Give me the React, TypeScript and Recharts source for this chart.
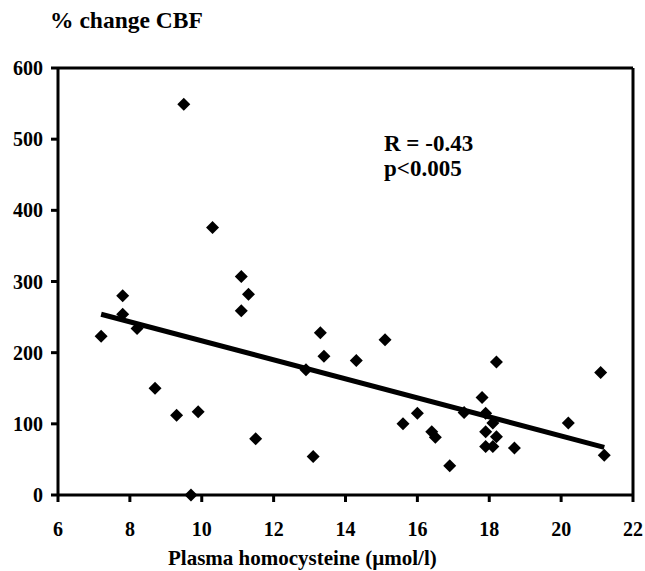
import {
	ScatterChart,
	Scatter,
	XAxis,
	YAxis,
	ReferenceLine
} from 'recharts'

// homocysteine (µmol/l) vs % change CBF
const homocysteine = [
	7.2, 7.8, 7.8, 8.2, 8.7, 9.3, 9.5, 9.7, 9.9, 10.3, 11.1, 11.3, 11.1, 11.5,
	12.9, 13.1, 13.3, 13.4, 14.3, 15.1, 15.6, 16.0, 16.4, 16.5, 16.9, 17.3,
	17.8, 17.9, 18.1, 17.9, 18.2, 17.9, 18.1, 18.2, 18.7, 20.2, 21.1, 21.2
]
const cbfChange = [
	223, 280, 254, 234, 150, 112, 549, 0, 117, 376, 307, 282, 259, 79, 176, 54,
	228, 195, 189, 218, 100, 115, 89, 81, 41, 116, 137, 115, 101, 89, 82, 68,
	68, 187, 66, 101, 172, 56
]

// regression line end points
const fitX = [7.2, 21.2]
const fitY = [254, 67]

const xTicks = [6, 8, 10, 12, 14, 16, 18, 20, 22]
const yTicks = [0, 100, 200, 300, 400, 500, 600]

const points = homocysteine.map((x, i) => ({ x, y: cbfChange[i] }))
const fit = fitX.map((x, i) => ({ x, y: fitY[i] }))

const font = "'Liberation Serif', 'Times New Roman', serif"
const tickStyle = { fill: '#000', fontSize: 20, fontWeight: 700, fontFamily: font }

function Diamond(props: any) {
	const { cx, cy } = props
	const r = 6.5
	return (
		<polygon
			points={`${cx},${cy - r} ${cx + r},${cy} ${cx},${cy + r} ${cx - r},${cy}`}
			fill='#000'
		/>
	)
}

export default function App() {
	// pinned to the page corner so nothing overflows into scrollbars
	return (
		<div
			style={{
				position: 'absolute',
				left: 0,
				top: 0,
				width: 645,
				height: 571,
				overflow: 'hidden',
				fontFamily: font
			}}
		>
			<div
				style={{
					position: 'absolute',
					left: 50,
					top: 9,
					fontSize: 23.5,
					lineHeight: 1,
					fontWeight: 700
				}}
			>
				% change CBF
			</div>
			<ScatterChart
				width={645}
				height={571}
				margin={{ top: 68, right: 12, bottom: 46, left: 8 }}
			>
				<XAxis
					type='number'
					dataKey='x'
					domain={[6, 22]}
					ticks={xTicks}
					interval={0}
					stroke='#000'
					strokeWidth={3}
					tickSize={7}
					tickMargin={20}
					tick={tickStyle}
					height={30}
				/>
				<YAxis
					type='number'
					dataKey='y'
					domain={[0, 600]}
					ticks={yTicks}
					interval={0}
					stroke='#000'
					strokeWidth={3}
					tickSize={7}
					tickMargin={8}
					tick={tickStyle}
					width={50}
				/>
				<ReferenceLine y={600} stroke='#000' strokeWidth={3} />
				<ReferenceLine x={22} stroke='#000' strokeWidth={3} />
				<Scatter
					data={fit}
					line={{ stroke: '#000', strokeWidth: 5 }}
					shape={() => <g />}
					isAnimationActive={false}
				/>
				<Scatter data={points} shape={Diamond} isAnimationActive={false} />
			</ScatterChart>
			<div
				style={{
					position: 'absolute',
					left: 384,
					top: 131,
					fontSize: 23,
					fontWeight: 700,
					lineHeight: '25px'
				}}
			>
				R = -0.43
				<br />
				p&lt;0.005
			</div>
			<div
				style={{
					position: 'absolute',
					left: 168,
					top: 548,
					whiteSpace: 'nowrap',
					fontSize: 21,
					lineHeight: 1,
					fontWeight: 700
				}}
			>
				Plasma homocysteine (µmol/l)
			</div>
		</div>
	)
}
